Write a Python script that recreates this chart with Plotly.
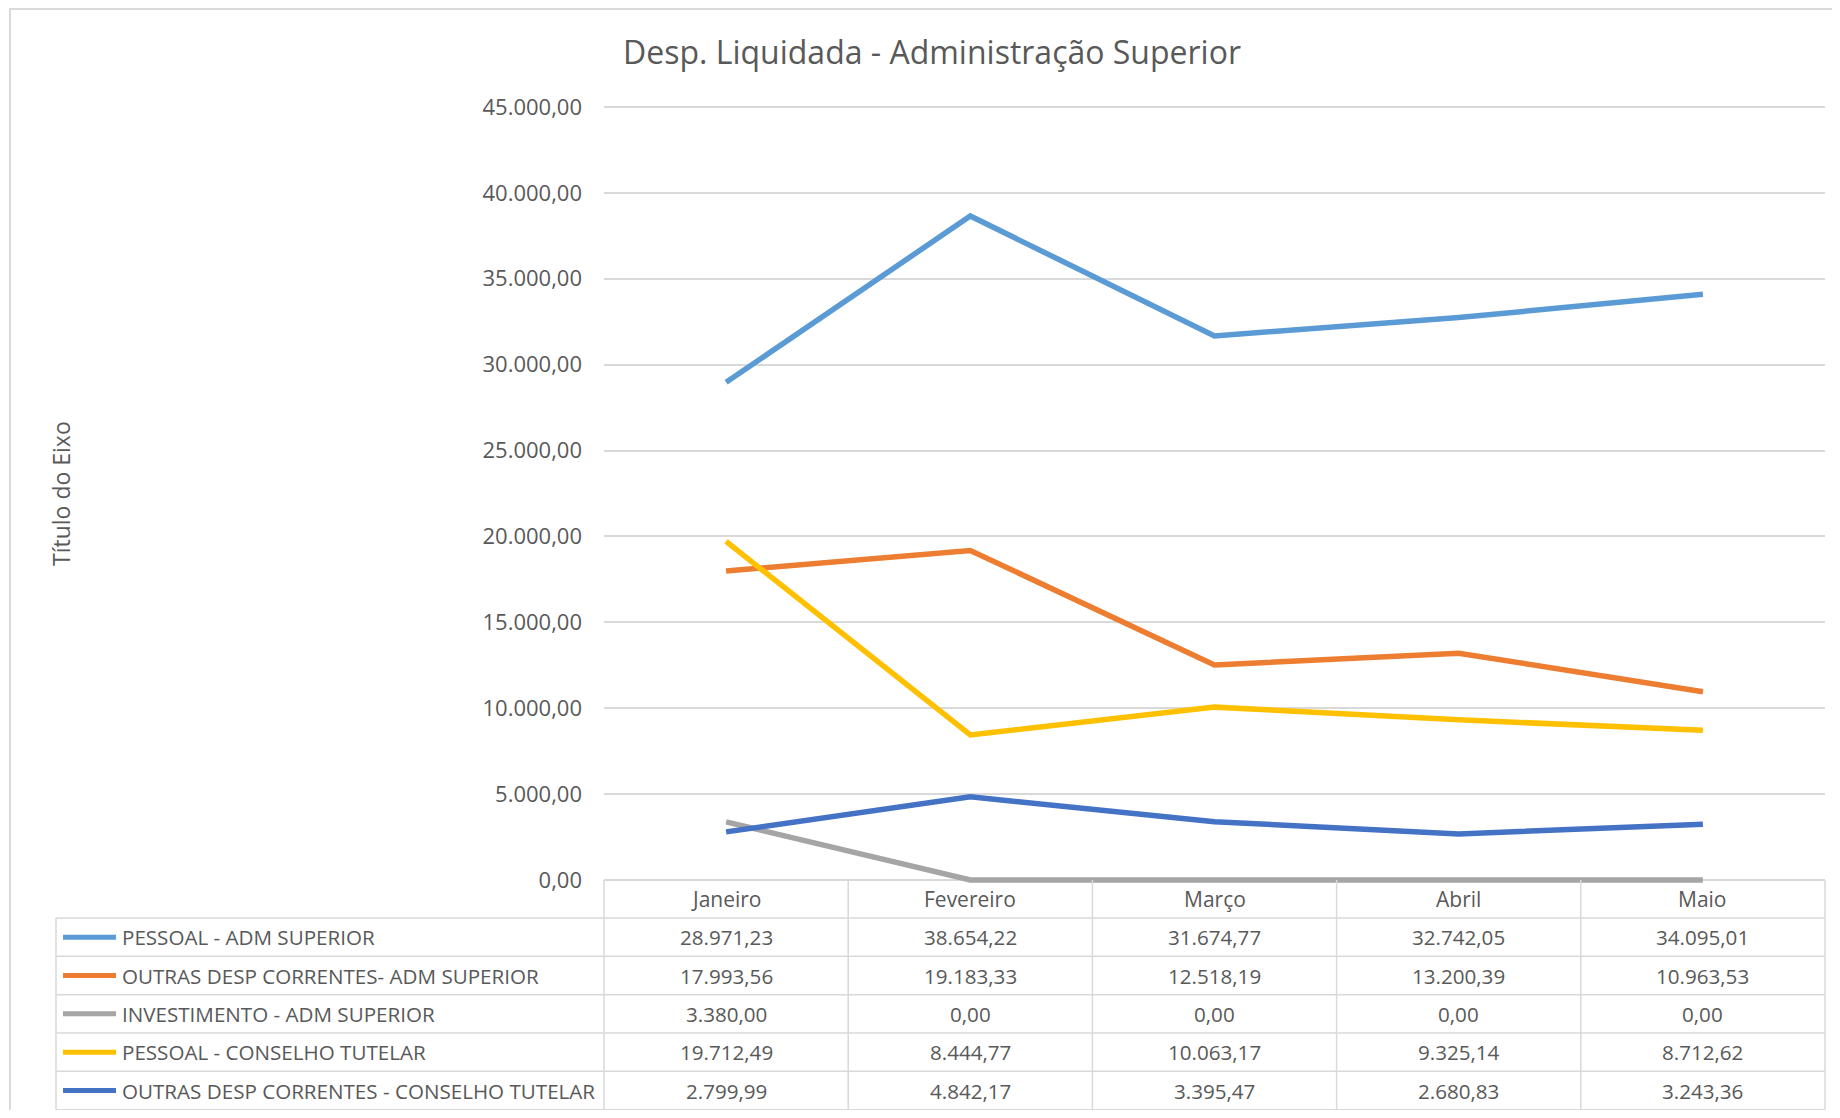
import plotly.graph_objects as go

# ---------------- data ----------------
categories = ["Janeiro", "Fevereiro", "Março", "Abril", "Maio"]
series_names = [
    "PESSOAL - ADM SUPERIOR",
    "OUTRAS DESP CORRENTES- ADM SUPERIOR",
    "INVESTIMENTO - ADM SUPERIOR",
    "PESSOAL - CONSELHO TUTELAR",
    "OUTRAS DESP CORRENTES - CONSELHO TUTELAR",
]
pessoal_adm = [28971.23, 38654.22, 31674.77, 32742.05, 34095.01]
outras_adm = [17993.56, 19183.33, 12518.19, 13200.39, 10963.53]
invest_adm = [3380.00, 0.00, 0.00, 0.00, 0.00]
pessoal_ct = [19712.49, 8444.77, 10063.17, 9325.14, 8712.62]
outras_ct = [2799.99, 4842.17, 3395.47, 2680.83, 3243.36]
series_values = [pessoal_adm, outras_adm, invest_adm, pessoal_ct, outras_ct]
y_ticks = [0, 5000, 10000, 15000, 20000, 25000, 30000, 35000, 40000, 45000]

colors = ["#5B9BD5", "#ED7D31", "#A5A5A5", "#FFC000", "#4472C4"]
TEXT = "#595959"
GRID = "#D9D9D9"
FONT = "Open Sans, Liberation Sans, sans-serif"

# ---------------- geometry (screen pixels; page body has an 8px margin) ----------------
OFF = 8
W, H = 1840 - 2 * OFF, 1118 - 2 * OFF
PL, PR, PT, PB = 604, 1825, 104, 883          # plot area in screen pixels
YMIN, YMAX = -175, 45175


def px(x):
    return (x - PL) / (PR - PL)


def py(y):
    return (PB - y) / (PB - PT)


def fmt(v):
    s = f"{v:,.2f}"
    return s.replace(",", "X").replace(".", ",").replace("X", ".")


fig = go.Figure()
for name, vals, c in zip(series_names, series_values, colors):
    fig.add_trace(go.Scatter(
        x=list(range(len(categories))), y=vals, name=name, mode="lines",
        line=dict(color=c, width=5.5), showlegend=False, hoverinfo="skip",
    ))

shapes = []
annotations = []

# outer chart border
shapes.append(dict(type="rect", xref="paper", yref="paper",
                   x0=px(10), x1=px(1900), y0=py(9), y1=py(1200),
                   line=dict(color=GRID, width=2), fillcolor="rgba(0,0,0,0)", layer="below"))

# table geometry
col_w = (PR - PL) / len(categories)
header_top = 880
row_lines = [918, 956.3, 994.7, 1033, 1071.3, 1109.7]
table_left = 56

for yl in row_lines:
    shapes.append(dict(type="line", xref="paper", yref="paper",
                       x0=px(table_left), x1=px(PR), y0=py(yl), y1=py(yl),
                       line=dict(color=GRID, width=1.5)))
for i in range(len(categories) + 1):
    xb = PL + i * col_w
    shapes.append(dict(type="line", xref="paper", yref="paper",
                       x0=px(xb), x1=px(xb), y0=py(header_top), y1=py(row_lines[-1]),
                       line=dict(color=GRID, width=1.5)))
shapes.append(dict(type="line", xref="paper", yref="paper",
                   x0=px(table_left), x1=px(table_left), y0=py(row_lines[0]), y1=py(row_lines[-1]),
                   line=dict(color=GRID, width=1.5)))

# header labels
hc = (header_top + row_lines[0]) / 2
for i, cat in enumerate(categories):
    annotations.append(dict(xref="x", yref="paper", x=i, y=py(hc), text=cat,
                            showarrow=False, xanchor="center", yanchor="middle",
                            font=dict(size=21, color=TEXT, family=FONT)))

# rows
for r, (name, vals, c) in enumerate(zip(series_names, series_values, colors)):
    yc = (row_lines[r] + row_lines[r + 1]) / 2
    shapes.append(dict(type="line", xref="paper", yref="paper",
                       x0=px(63), x1=px(116), y0=py(yc), y1=py(yc),
                       line=dict(color=c, width=5)))
    annotations.append(dict(xref="paper", yref="paper", x=px(120), y=py(yc), text=name,
                            showarrow=False, xanchor="left", yanchor="middle",
                            font=dict(size=20.6, color=TEXT, family=FONT)))
    for i, v in enumerate(vals):
        annotations.append(dict(xref="x", yref="paper", x=i, y=py(yc), text=fmt(v),
                                showarrow=False, xanchor="center", yanchor="middle",
                                font=dict(size=20.6, color=TEXT, family=FONT)))

# axis title
annotations.append(dict(xref="paper", yref="paper", x=px(61), y=py(494), text="Título do Eixo",
                        textangle=-90, showarrow=False, xanchor="center", yanchor="middle",
                        font=dict(size=23, color=TEXT, family=FONT)))

fig.update_layout(
    width=W, height=H,
    margin=dict(l=PL - OFF, r=W - (PR - OFF), t=PT - OFF, b=H - (PB - OFF), pad=0),
    paper_bgcolor="white", plot_bgcolor="white",
    separators=",.",
    title=dict(text="Desp. Liquidada - Administração Superior",
               xref="container", yref="container", x=(932 - OFF) / W, y=1 - (53 - OFF) / H,
               xanchor="center", yanchor="middle",
               font=dict(size=32, color=TEXT, family=FONT)),
    xaxis=dict(range=[-0.5, len(categories) - 0.5], showgrid=False, zeroline=False,
               showticklabels=False, showline=False, ticks="", fixedrange=True),
    yaxis=dict(range=[YMIN, YMAX], tickmode="array", tickvals=y_ticks,
               tickformat=",.2f", showgrid=True, gridcolor=GRID, gridwidth=1.5,
               zeroline=False, showline=False, ticks="", ticklabelstandoff=21,
               tickfont=dict(size=22, color=TEXT, family=FONT), fixedrange=True),
    shapes=shapes,
    annotations=annotations,
    font=dict(family=FONT, color=TEXT),
)

fig.write_html("out.html")
